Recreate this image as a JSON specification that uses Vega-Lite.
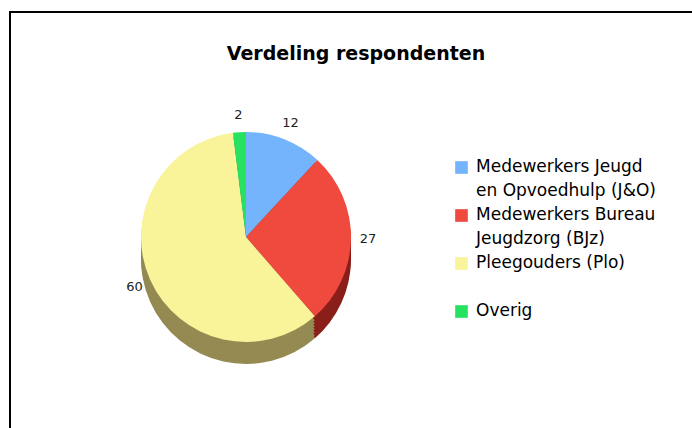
{
  "$schema": "https://vega.github.io/schema/vega-lite/v6.json",
  "width": 700,
  "height": 430,
  "autosize": {"type": "none"},
  "padding": {"left": 10, "top": 12, "right": 0, "bottom": 0},
  "background": "white",
  "view": {"stroke": "#000000", "strokeWidth": 2, "fill": "white"},
  "config": {
    "font": "DejaVu Sans"
  },
  "title": {
    "text": "Verdeling respondenten",
    "fontSize": 19,
    "fontWeight": "bold",
    "font": "DejaVu Sans",
    "color": "#000000",
    "anchor": "middle",
    "baseline": "alphabetic",
    "offset": -67,
    "dx": -4
  },
  "data": {
    "values": [
      {"category": "Medewerkers Jeugd en Opvoedhulp (J&O)", "aantal": 12},
      {"category": "Medewerkers Bureau Jeugdzorg (BJz)", "aantal": 27},
      {"category": "Pleegouders (Plo)", "aantal": 60},
      {"category": "Overig", "aantal": 2}
    ]
  },
  "resolve": {"scale": {"color": "independent"}},
  "layer": [
    {
      "mark": {"type": "arc", "radius": 105, "x": 236, "y": 247, "strokeWidth": 0},
      "encoding": {
        "theta": {"field": "aantal", "type": "quantitative", "stack": true, "scale": {"range": [-3.857, 2.426]}},
        "order": {"field": "category", "sort": "descending"},
        "color": {"field": "category", "type": "nominal", "legend": null,
          "scale": {"domain": ["Medewerkers Jeugd en Opvoedhulp (J&O)", "Medewerkers Bureau Jeugdzorg (BJz)", "Pleegouders (Plo)", "Overig"], "range": ["#3f6f9e", "#8a1f1a", "#948a52", "#17893d"]}}
      }
    },
    {
      "mark": {"type": "arc", "radius": 105, "x": 236, "y": 244, "strokeWidth": 0},
      "encoding": {
        "theta": {"field": "aantal", "type": "quantitative", "stack": true, "scale": {"range": [-3.857, 2.426]}},
        "order": {"field": "category", "sort": "descending"},
        "color": {"field": "category", "type": "nominal", "legend": null,
          "scale": {"domain": ["Medewerkers Jeugd en Opvoedhulp (J&O)", "Medewerkers Bureau Jeugdzorg (BJz)", "Pleegouders (Plo)", "Overig"], "range": ["#3f6f9e", "#8a1f1a", "#948a52", "#17893d"]}}
      }
    },
    {
      "mark": {"type": "arc", "radius": 105, "x": 236, "y": 241, "strokeWidth": 0},
      "encoding": {
        "theta": {"field": "aantal", "type": "quantitative", "stack": true, "scale": {"range": [-3.857, 2.426]}},
        "order": {"field": "category", "sort": "descending"},
        "color": {"field": "category", "type": "nominal", "legend": null,
          "scale": {"domain": ["Medewerkers Jeugd en Opvoedhulp (J&O)", "Medewerkers Bureau Jeugdzorg (BJz)", "Pleegouders (Plo)", "Overig"], "range": ["#3f6f9e", "#8a1f1a", "#948a52", "#17893d"]}}
      }
    },
    {
      "mark": {"type": "arc", "radius": 105, "x": 236, "y": 238, "strokeWidth": 0},
      "encoding": {
        "theta": {"field": "aantal", "type": "quantitative", "stack": true, "scale": {"range": [-3.857, 2.426]}},
        "order": {"field": "category", "sort": "descending"},
        "color": {"field": "category", "type": "nominal", "legend": null,
          "scale": {"domain": ["Medewerkers Jeugd en Opvoedhulp (J&O)", "Medewerkers Bureau Jeugdzorg (BJz)", "Pleegouders (Plo)", "Overig"], "range": ["#3f6f9e", "#8a1f1a", "#948a52", "#17893d"]}}
      }
    },
    {
      "mark": {"type": "arc", "radius": 105, "x": 236, "y": 235, "strokeWidth": 0},
      "encoding": {
        "theta": {"field": "aantal", "type": "quantitative", "stack": true, "scale": {"range": [-3.857, 2.426]}},
        "order": {"field": "category", "sort": "descending"},
        "color": {"field": "category", "type": "nominal", "legend": null,
          "scale": {"domain": ["Medewerkers Jeugd en Opvoedhulp (J&O)", "Medewerkers Bureau Jeugdzorg (BJz)", "Pleegouders (Plo)", "Overig"], "range": ["#3f6f9e", "#8a1f1a", "#948a52", "#17893d"]}}
      }
    },
    {
      "mark": {"type": "arc", "radius": 105, "x": 236, "y": 232, "strokeWidth": 0},
      "encoding": {
        "theta": {"field": "aantal", "type": "quantitative", "stack": true, "scale": {"range": [-3.857, 2.426]}},
        "order": {"field": "category", "sort": "descending"},
        "color": {"field": "category", "type": "nominal", "legend": null,
          "scale": {"domain": ["Medewerkers Jeugd en Opvoedhulp (J&O)", "Medewerkers Bureau Jeugdzorg (BJz)", "Pleegouders (Plo)", "Overig"], "range": ["#3f6f9e", "#8a1f1a", "#948a52", "#17893d"]}}
      }
    },
    {
      "mark": {"type": "arc", "radius": 105, "x": 236, "y": 229, "strokeWidth": 0},
      "encoding": {
        "theta": {"field": "aantal", "type": "quantitative", "stack": true, "scale": {"range": [-3.857, 2.426]}},
        "order": {"field": "category", "sort": "descending"},
        "color": {"field": "category", "type": "nominal", "legend": null,
          "scale": {"domain": ["Medewerkers Jeugd en Opvoedhulp (J&O)", "Medewerkers Bureau Jeugdzorg (BJz)", "Pleegouders (Plo)", "Overig"], "range": ["#3f6f9e", "#8a1f1a", "#948a52", "#17893d"]}}
      }
    },
    {
      "mark": {"type": "arc", "radius": 105, "x": 236, "y": 225, "strokeWidth": 0},
      "encoding": {
        "theta": {"field": "aantal", "type": "quantitative", "stack": true, "scale": {"range": [-3.857, 2.426]}},
        "order": {"field": "category", "sort": "descending"},
        "color": {"field": "category", "type": "nominal",
          "scale": {"domain": ["Medewerkers Jeugd en Opvoedhulp (J&O)", "Medewerkers Bureau Jeugdzorg (BJz)", "Pleegouders (Plo)", "Overig"], "range": ["#74b4fc", "#ef4a3d", "#f9f39a", "#27e261"]},
          "legend": {
            "title": null,
            "orient": "none",
            "legendX": 443,
            "legendY": 147,
            "padding": 0,
            "symbolType": "square",
            "symbolSize": 160,
            "symbolStrokeWidth": 0,
            "labelFont": "DejaVu Sans",
            "labelFontSize": 17,
            "labelColor": "#000000",
            "labelLimit": 300,
            "labelOffset": 6,
            "labelBaseline": "top",
            "rowPadding": 6,
            "labelExpr": "datum.label == 'Medewerkers Jeugd en Opvoedhulp (J&O)' ? ['Medewerkers Jeugd', 'en Opvoedhulp (J&O)'] : datum.label == 'Medewerkers Bureau Jeugdzorg (BJz)' ? ['Medewerkers Bureau', 'Jeugdzorg (BJz)'] : datum.label == 'Pleegouders (Plo)' ? ['Pleegouders (Plo)', ''] : datum.label",
            "encode": {"labels": {"update": {"dy": {"value": -9}, "lineHeight": {"value": 24}}}}
          }
        }
      }
    },
    {
      "mark": {"type": "text", "radius": 122, "x": 236, "y": 225, "fontSize": 13, "font": "DejaVu Sans"},
      "encoding": {
        "theta": {"field": "aantal", "type": "quantitative", "stack": true, "scale": {"range": [-3.857, 2.426]}},
        "order": {"field": "category", "sort": "descending"},
        "text": {"field": "aantal", "type": "quantitative"},
        "color": {"field": "category", "type": "nominal", "legend": null,
          "scale": {"domain": ["Medewerkers Jeugd en Opvoedhulp (J&O)", "Medewerkers Bureau Jeugdzorg (BJz)", "Pleegouders (Plo)", "Overig"], "range": ["#222222", "#222222", "#222222", "#222222"]}}
      }
    }
  ]
}
